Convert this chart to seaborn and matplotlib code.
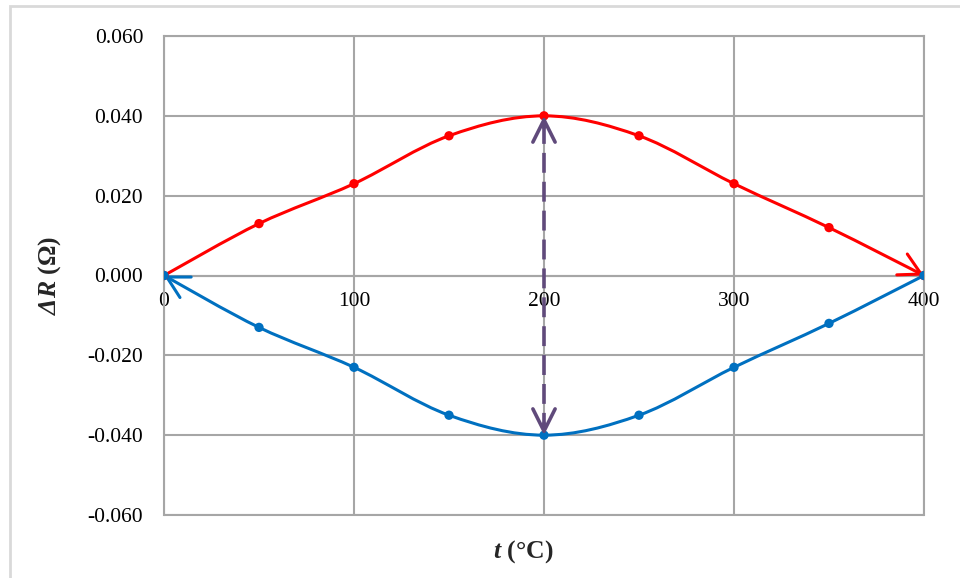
import numpy as np
import pandas as pd
import matplotlib
matplotlib.use('Agg')
import matplotlib.pyplot as plt
import seaborn as sns
from matplotlib.path import Path
from matplotlib.patches import FancyArrowPatch, Rectangle

# Data
temps = [0, 50, 100, 150, 200, 250, 300, 350, 400]
dr_upper = [0.000, 0.013, 0.023, 0.035, 0.040, 0.035, 0.023, 0.012, 0.000]
dr_lower = [0.000, -0.013, -0.023, -0.035, -0.040, -0.035, -0.023, -0.012, 0.000]
x_ticks = [0, 100, 200, 300, 400]
y_ticks = [-0.060, -0.040, -0.020, 0.000, 0.020, 0.040, 0.060]

red = '#ff0000'
blue = '#0070c0'
purple = '#604a7b'
grid_col = '#a6a6a6'

sns.set_style('white')
plt.rcParams['font.family'] = ['Liberation Serif', 'DejaVu Serif']
plt.rcParams['mathtext.fontset'] = 'custom'
plt.rcParams['mathtext.it'] = 'Liberation Serif:italic:bold'
plt.rcParams['mathtext.sf'] = 'Liberation Serif:italic:bold'  # italic capital Greek
plt.rcParams['mathtext.rm'] = 'Liberation Serif:bold'
plt.rcParams['mathtext.bf'] = 'Liberation Serif:bold'


def smooth_path(xs, ys):
    # Excel-like smoothed line: Catmull-Rom turned into cubic Bezier segments
    pts = np.column_stack([xs, ys]).astype(float)
    n = len(pts)
    verts = [pts[0]]
    codes = [Path.MOVETO]
    for i in range(n - 1):
        p0 = pts[max(i - 1, 0)]
        p1 = pts[i]
        p2 = pts[i + 1]
        p3 = pts[min(i + 2, n - 1)]
        verts += [p1 + (p2 - p0) / 6, p2 - (p3 - p1) / 6, p2]
        codes += [Path.CURVE4] * 3
    return Path(verts, codes)


fig = plt.figure(figsize=(9.6, 5.78), dpi=100)
ax = fig.add_axes([164 / 960, 1 - 515 / 578, 760 / 960, 479 / 578])

# smoothed series lines with their arrow ends
ax.add_patch(FancyArrowPatch(path=smooth_path(temps, dr_upper),
                             arrowstyle='->, head_length=1.1, head_width=0.6',
                             mutation_scale=14, color=red, lw=2.2, zorder=3))
ax.add_patch(FancyArrowPatch(path=smooth_path(temps, dr_lower),
                             arrowstyle='<-, head_length=1.1, head_width=0.6',
                             mutation_scale=14, color=blue, lw=2.2, zorder=3))

df = pd.DataFrame({'t': temps * 2,
                   'dR': dr_upper + dr_lower,
                   'series': ['up'] * len(temps) + ['down'] * len(temps)})
sns.scatterplot(data=df, x='t', y='dR', hue='series',
                palette={'up': red, 'down': blue}, s=45, linewidth=0,
                legend=False, zorder=4, ax=ax)

# purple dashed double arrow at the peak
t_mid = temps[4]
ax.plot([t_mid, t_mid], [dr_upper[4] - 0.002, dr_lower[4] + 0.002],
        color=purple, lw=2.6, linestyle=(0, (5.5, 2.5)), zorder=5)
for tip, tail in [(dr_upper[4], dr_upper[4] - 0.003), (dr_lower[4], dr_lower[4] + 0.003)]:
    ax.annotate('', xy=(t_mid, tip), xytext=(t_mid, tail),
                arrowprops=dict(arrowstyle='->, head_length=1.0, head_width=0.5',
                                mutation_scale=16, color=purple, lw=2.6,
                                shrinkA=0, shrinkB=0), zorder=5)

ax.set_xlim(0, 400)
ax.set_ylim(-0.06, 0.06)
ax.set_xticks(x_ticks)
ax.set_yticks(y_ticks)
ax.set_yticklabels([f'{v:.3f}' for v in y_ticks])
ax.set_xticklabels([str(v) for v in x_ticks])
ax.grid(True, color=grid_col, lw=1.5)
ax.set_axisbelow(True)

for side in ['left', 'right', 'top', 'bottom']:
    ax.spines[side].set_color(grid_col)
    ax.spines[side].set_linewidth(1.5)
ax.spines['bottom'].set_position(('data', 0))
ax.axhline(-0.06, color=grid_col, lw=1.5, clip_on=False, zorder=1)

ax.tick_params(axis='both', length=0, labelsize=15.5, colors='black')
ax.tick_params(axis='x', pad=12)
ax.tick_params(axis='y', pad=15)

ax.set_xlabel(r'$t$ (°C)', fontsize=18.5, fontweight='bold')
ax.set_ylabel(r'$\mathsf{\Delta}\mathit{R}$ (Ω)', fontsize=18.5, fontweight='bold')
ax.xaxis.set_label_coords((523 - 164) / 760, (515 - 538) / 479)
ax.yaxis.set_label_coords((63 - 164) / 760, 0.5)

# light outer chart-area frame
fig.add_artist(Rectangle((10 / 960, -0.1), 1.2, 1.1 - 6 / 578,
                         transform=fig.transFigure, fill=False,
                         edgecolor='#d9d9d9', lw=2, clip_on=False))

fig.savefig('out.png', dpi=100)
